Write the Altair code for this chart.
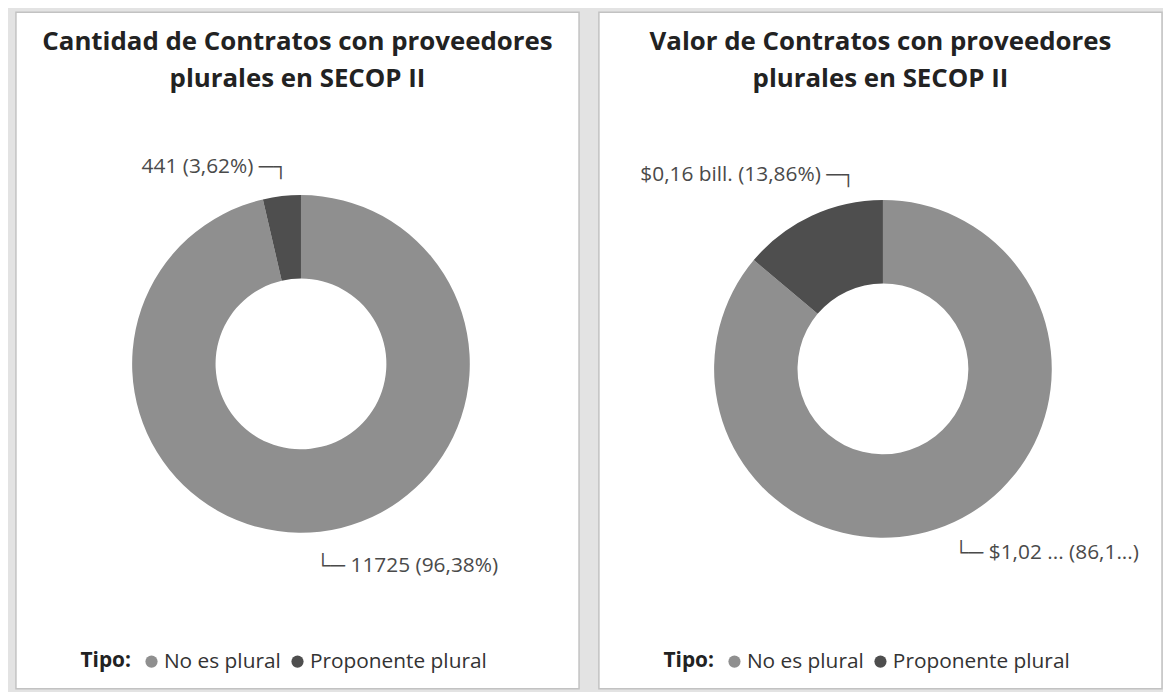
import math
import altair as alt
import pandas as pd

# ---- data ----
tipos = ["No es plural", "Proponente plural"]
orden = [0, 1]
pct_cantidad = [96.38, 3.62]
etiquetas_cantidad = ["└─ 11725 (96,38%)", "441 (3,62%) ─┐"]
pct_valor = [86.14, 13.86]
etiquetas_valor = ["└─ $1,02 ... (86,1...)", "$0,16 bill. (13,86%) ─┐"]
titulo_cantidad = ["Cantidad de Contratos con proveedores", "plurales en SECOP II"]
titulo_valor = ["Valor de Contratos con proveedores", "plurales en SECOP II"]

COLORS = ["#8f8f8f", "#4e4e4e"]
FONT = "Open Sans"
W, H = 567, 681


def panel(title_lines, pct, labels, cx, cy, off_big, off_small):
    df = pd.DataFrame({"Tipo": tipos, "pct": pct, "label": labels, "orden": orden})
    base = (
        alt.Chart(df)
        .transform_joinaggregate(total="sum(pct)")
        .transform_window(cum="sum(pct)", sort=[alt.SortField("orden")], frame=[None, 0])
        .transform_calculate(
            start="(datum.cum - datum.pct) / datum.total",
            end="datum.cum / datum.total",
            mid="(datum.cum - datum.pct / 2) / datum.total",
        )
    )
    tscale = alt.Scale(domain=[0, 1], range=[0, 2 * math.pi])
    arc = base.mark_arc(outerRadius=170, innerRadius=86).encode(
        theta=alt.Theta("start:Q", scale=tscale),
        theta2="end:Q",
        x=alt.value(cx),
        y=alt.value(cy),
        color=alt.Color(
            "Tipo:N",
            scale=alt.Scale(domain=tipos, range=COLORS),
            legend=alt.Legend(
                orient="none",
                legendX=65,
                legendY=643,
                direction="horizontal",
                title="Tipo:",
                titleOrient="left",
                titleFontSize=21,
                titleFontWeight="bold",
                titleColor="#222222",
                titleFont=FONT,
                titlePadding=10,
                labelFontSize=21,
                labelFont=FONT,
                labelColor="#333333",
                labelOffset=2,
                labelLimit=400,
                symbolType="circle",
                symbolSize=150,
                symbolStrokeWidth=0,
                columnPadding=6,
            ),
        ),
    )
    big = base.transform_filter("datum.orden == 0").mark_text(
        align="left", baseline="middle", radius=200, fontSize=21, font=FONT,
        color="#4a4a4a", dx=off_big[0], dy=off_big[1],
    ).encode(
        theta=alt.Theta("mid:Q", scale=tscale),
        x=alt.value(cx), y=alt.value(cy), text="label:N",
    )
    small = base.transform_filter("datum.orden == 1").mark_text(
        align="right", baseline="middle", radius=200, fontSize=21, font=FONT,
        color="#4a4a4a", dx=off_small[0], dy=off_small[1],
    ).encode(
        theta=alt.Theta("mid:Q", scale=tscale),
        x=alt.value(cx), y=alt.value(cy), text="label:N",
    )
    return alt.layer(arc, big, small).properties(
        width=W,
        height=H,
        title=alt.Title(
            text=title_lines,
            anchor="middle",
            fontSize=26,
            fontWeight="bold",
            font=FONT,
            color="#222222",
            lineHeight=37,
            offset=-80,
        ),
    )


p1 = panel(titulo_cantidad, pct_cantidad, etiquetas_cantidad, 287, 354, (-8, 5), (10, 0))
p2 = panel(titulo_valor, pct_valor, etiquetas_valor, 286, 359, (-13, 4), (57, -14))

chart = (
    alt.hconcat(p1, p2, spacing=18)
    .resolve_scale(color="independent", theta="independent")
    .properties(background="#e3e3e3", padding={"left": 7, "top": 1, "right": 0, "bottom": 0})
    .configure_view(fill="white", stroke="#c2c2c2", strokeWidth=1.5)
)

chart.save("out.html", embed_options={"renderer": "svg", "actions": False})
